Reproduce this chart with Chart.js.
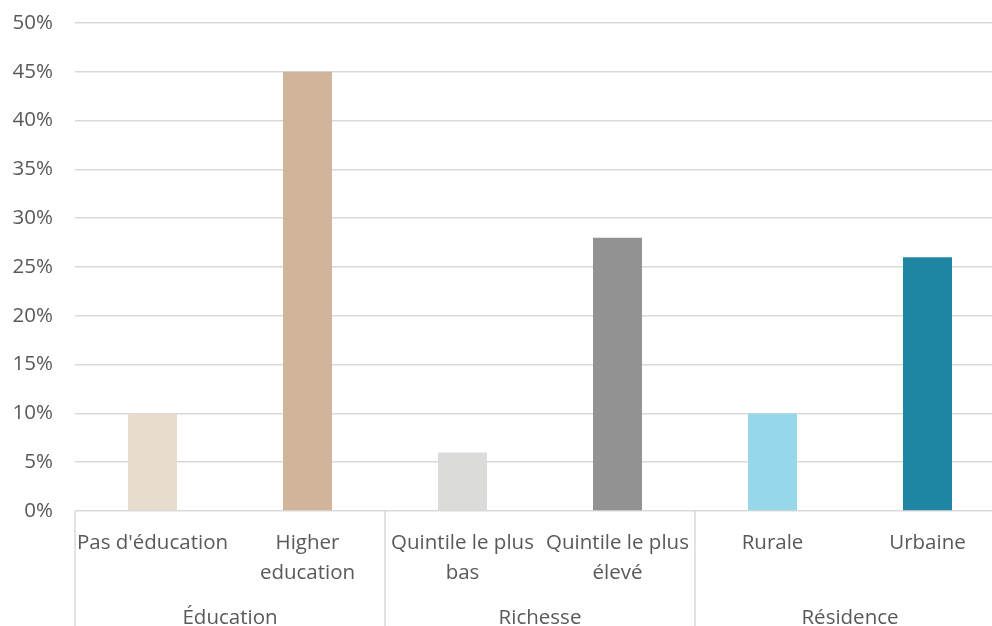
<!DOCTYPE html>
<html>
<head>
<meta charset="utf-8">
<script src="https://cdn.jsdelivr.net/npm/chart.js@4.4.1/dist/chart.umd.min.js"></script>
<style>
  html, body { margin: 0; padding: 0; background: #fff; overflow: hidden; }
  #wrap { width: 1010px; height: 626px; }
</style>
</head>
<body>
<div id="wrap"><canvas id="c" width="1010" height="626"></canvas></div>
<script>
// Categories, their two-line labels and the group each belongs to
const categories = ["Pas d'éducation", "Higher education", "Quintile le plus bas", "Quintile le plus élevé", "Rurale", "Urbaine"];
const categoryLines = [["Pas d'éducation"], ["Higher", "education"], ["Quintile le plus", "bas"], ["Quintile le plus", "élevé"], ["Rurale"], ["Urbaine"]];
const groups = ["Éducation", "Richesse", "Résidence"];
const groupSizes = [2, 2, 2];
// Share (%) for each category
const values = [10, 45, 6, 28, 10, 26];
const barColors = ["#E7DCCE", "#D1B59B", "#DBDBDA", "#929292", "#97D7EA", "#1F85A2"];
// Y-axis tick settings (percent)
const yMin = 0, yMax = 50, yStep = 5;

const FONT = "'Open Sans', sans-serif";
const FONT_SIZE = 20.5;
const TEXT = "#595959";
const GRID = "#D9D9D9";

// Draws the two-level category axis and its group separators
const groupAxis = {
  id: 'groupAxis',
  afterDraw(chart) {
    const ctx = chart.ctx;
    const xs = chart.scales.x;
    const area = chart.chartArea;
    const base = area.bottom;
    ctx.save();
    ctx.fillStyle = TEXT;
    ctx.font = FONT_SIZE + "px " + FONT;
    ctx.textAlign = 'center';
    ctx.textBaseline = 'middle';
    categoryLines.forEach((lines, i) => {
      const cx = xs.getPixelForValue(i);
      lines.forEach((t, j) => ctx.fillText(t, cx, base + 32 + j * 30));
    });
    // separators at group boundaries
    ctx.strokeStyle = GRID;
    ctx.lineWidth = 1.5;
    let idx = 0;
    const bounds = [];
    const half = (xs.getPixelForValue(1) - xs.getPixelForValue(0)) / 2;
    bounds.push(xs.getPixelForValue(0) - half);
    groupSizes.forEach(n => { idx += n; bounds.push(xs.getPixelForValue(idx - 1) + half); });
    bounds.forEach(bx => {
      ctx.beginPath();
      ctx.moveTo(bx, base);
      ctx.lineTo(bx, chart.height);
      ctx.stroke();
    });
    groups.forEach((g, k) => {
      ctx.fillText(g, (bounds[k] + bounds[k + 1]) / 2, base + 107);
    });
    ctx.restore();
  }
};

new Chart(document.getElementById('c'), {
  type: 'bar',
  data: {
    labels: categories,
    datasets: [{
      data: values,
      backgroundColor: barColors,
      borderWidth: 0,
      categoryPercentage: 1,
      barPercentage: 0.316
    }]
  },
  options: {
    responsive: false,
    devicePixelRatio: 1,
    animation: false,
    layout: { padding: { top: 23, right: 5, bottom: 0, left: 0 } },
    plugins: { legend: { display: false }, tooltip: { enabled: false } },
    scales: {
      x: {
        grid: { display: false },
        border: { display: false },
        ticks: { display: false },
        afterFit(scale) { scale.height = 115; scale.paddingLeft = 0; scale.paddingRight = 0; }
      },
      y: {
        min: yMin,
        max: yMax,
        grid: { color: GRID, lineWidth: 1.5, drawTicks: false },
        border: { display: false },
        ticks: {
          stepSize: yStep,
          padding: 22,
          color: TEXT,
          font: { family: FONT, size: FONT_SIZE },
          callback: v => v + '%'
        },
        afterFit(scale) { scale.width = 75; scale.paddingTop = 0; scale.paddingBottom = 0; }
      }
    }
  },
  plugins: [groupAxis]
});
</script>
</body>
</html>
